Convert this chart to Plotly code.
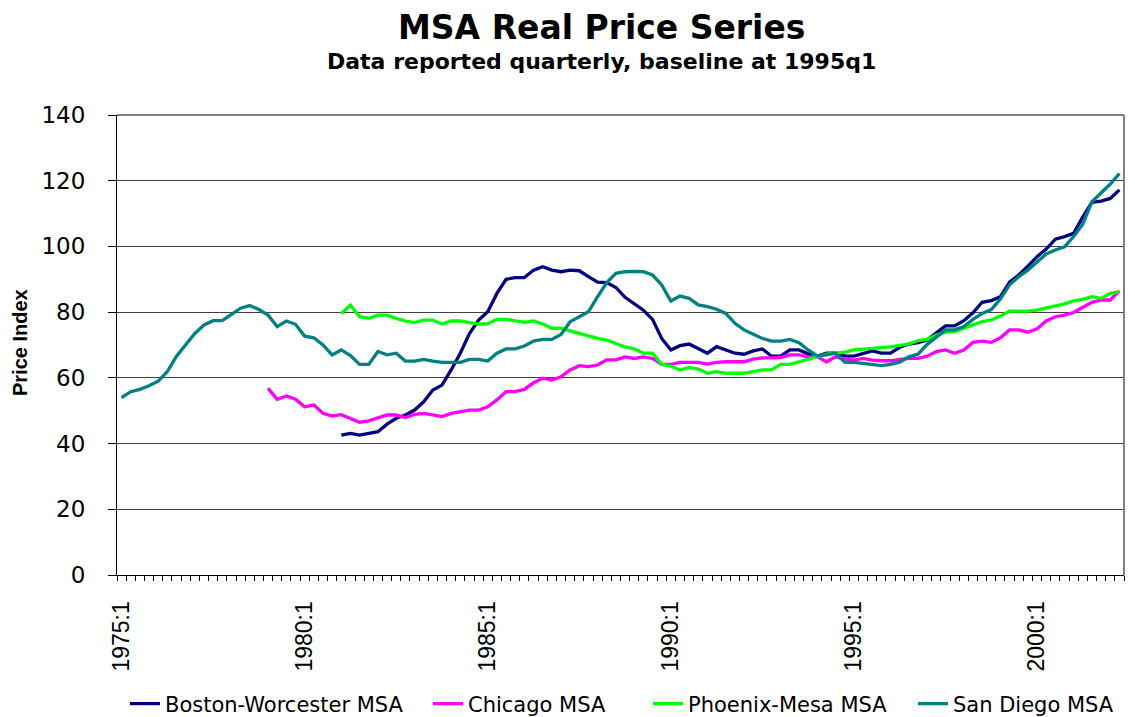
import plotly.graph_objects as go

# ---------------- data ----------------
quarters = [f"{y}:{q}" for y in range(1975, 2003) for q in range(1, 5)][:110]  # 1975:1 .. 2002:2
tick_labels = ["1975:1", "1980:1", "1985:1", "1990:1", "1995:1", "2000:1"]

boston_start = "1981:1"
boston = [42.6, 43.1, 42.6, 43.1, 43.6, 45.9, 47.7, 48.7, 50.2, 52.7, 56.3, 57.8, 62.4, 67.5, 73.5, 77.6,
          80.1, 85.7, 90.0, 90.5, 90.5, 92.8, 93.8, 92.8, 92.3, 92.8, 92.6, 90.8, 89.1, 89.0, 87.5, 84.5,
          82.4, 80.6, 77.8, 72.0, 68.5, 69.8, 70.3, 68.8, 67.5, 69.5, 68.5, 67.5, 67.2, 68.2, 68.8, 66.6,
          66.6, 68.5, 68.5, 67.3, 66.6, 67.5, 67.5, 66.7, 66.6, 67.5, 68.2, 67.5, 67.5, 69.3, 70.3, 70.7,
          71.5, 73.7, 75.8, 75.8, 77.4, 79.8, 83.0, 83.5, 84.7, 89.1, 91.3, 94.0, 96.9, 99.2, 102.2, 103.0,
          104.0, 109.0, 113.4, 113.8, 114.6, 117.2]

chicago_start = "1979:1"
chicago = [56.8, 53.5, 54.5, 53.5, 51.2, 51.7, 49.2, 48.4, 48.8, 47.7, 46.5, 46.9, 47.9, 48.7, 48.7, 47.9,
           48.9, 49.2, 48.7, 48.2, 49.2, 49.7, 50.2, 50.2, 51.2, 53.3, 55.8, 55.8, 56.5, 58.5, 59.9, 59.3,
           60.3, 62.4, 63.7, 63.4, 63.9, 65.5, 65.5, 66.4, 65.9, 66.4, 65.9, 64.1, 64.1, 64.7, 64.7, 64.7,
           64.2, 64.7, 64.9, 64.9, 64.9, 65.7, 66.1, 66.1, 66.2, 67.0, 67.0, 66.4, 66.4, 64.9, 66.4, 65.7,
           65.4, 65.9, 65.4, 65.2, 65.2, 65.6, 65.9, 65.9, 66.6, 68.0, 68.5, 67.5, 68.5, 70.8, 71.2, 70.8,
           72.2, 74.6, 74.6, 73.9, 74.9, 77.3, 78.6, 79.1, 79.9, 81.5, 83.0, 83.7, 83.7, 86.5]

phoenix_start = "1981:1"
phoenix = [79.6, 82.1, 78.6, 78.1, 79.1, 79.1, 78.1, 77.3, 76.8, 77.6, 77.6, 76.4, 77.3, 77.3, 76.8, 76.4,
           76.4, 77.8, 77.8, 77.3, 76.9, 77.3, 76.4, 75.1, 75.1, 74.3, 73.5, 72.7, 72.0, 71.5, 70.4, 69.4,
           68.8, 67.5, 67.5, 64.1, 63.6, 62.4, 63.2, 62.7, 61.4, 61.9, 61.4, 61.4, 61.4, 61.9, 62.4, 62.4,
           64.1, 64.1, 64.9, 65.7, 66.4, 67.2, 67.5, 67.8, 68.5, 68.7, 69.0, 69.1, 69.4, 69.9, 70.3, 71.3,
           71.7, 73.0, 73.9, 74.1, 75.1, 75.9, 77.1, 77.6, 78.8, 80.3, 80.3, 80.3, 80.6, 81.2, 82.0, 82.5,
           83.4, 83.9, 84.7, 84.2, 85.7, 86.2]

sandiego_start = "1975:1"
sandiego = [54.0, 55.8, 56.5, 57.6, 59.0, 61.9, 66.6, 70.2, 73.5, 76.1, 77.4, 77.4, 79.3, 81.2, 82.0, 80.8,
            79.1, 75.6, 77.3, 76.3, 72.7, 72.2, 70.0, 67.0, 68.5, 66.8, 64.1, 64.1, 68.0, 67.0, 67.5, 65.1,
            65.1, 65.6, 65.1, 64.7, 64.7, 64.7, 65.6, 65.6, 65.1, 67.5, 68.8, 68.8, 69.7, 71.2, 71.7, 71.7,
            73.2, 77.1, 78.6, 80.1, 84.7, 89.0, 91.8, 92.3, 92.4, 92.3, 91.3, 88.3, 83.4, 84.9, 84.2, 82.2,
            81.7, 80.9, 79.6, 76.6, 74.6, 73.2, 72.0, 71.2, 71.2, 71.7, 70.7, 68.5, 66.7, 67.0, 67.5, 64.7,
            64.7, 64.4, 64.0, 63.7, 64.1, 64.8, 66.4, 67.2, 70.2, 72.5, 74.6, 74.6, 75.6, 77.8, 79.6, 80.8,
            84.0, 88.3, 90.8, 92.8, 95.4, 97.7, 98.9, 99.9, 103.0, 106.8, 113.6, 116.2, 119.0, 122.2]

series = [
    ("Boston-Worcester MSA", boston_start, boston, "#000080"),
    ("Chicago MSA", chicago_start, chicago, "#FF00FF"),
    ("Phoenix-Mesa MSA", phoenix_start, phoenix, "#00FF00"),
    ("San Diego MSA", sandiego_start, sandiego, "#008080"),
]

# ---------------- figure ----------------
W, H = 1135, 717
L, R, T, B = 117, 11, 115, 142
pw, ph = W - L - R, H - T - B


def py(p):  # pixel y -> paper y
    return (H - B - p) / ph


def px(p):  # pixel x -> paper x
    return (p - L) / pw


fig = go.Figure()
legend_names = ["legend", "legend2", "legend3", "legend4"]
legend_text_x = [165, 468, 688, 953]

for k, (name, start, vals, color) in enumerate(series):
    i0 = quarters.index(start)
    xs = list(range(i0, i0 + len(vals)))
    fig.add_trace(go.Scatter(
        x=xs, y=vals, mode="lines", name=name,
        line=dict(color=color, width=3.3),
        legend=legend_names[k],
        hovertext=[quarters[i] for i in xs],
    ))

legend_font = dict(family="DejaVu Sans", size=21, color="black")
layout_legends = {}
for k, ln in enumerate(legend_names):
    layout_legends[ln] = dict(
        x=(legend_text_x[k] - 40) / W, xref="container", xanchor="left",
        y=1 - 704 / H, yref="container", yanchor="middle",
        orientation="h", font=legend_font, bgcolor="rgba(0,0,0,0)",
        borderwidth=0, itemwidth=30,
    )

fig.update_layout(
    width=W, height=H,
    margin=dict(l=L, r=R, t=T, b=B, pad=0, autoexpand=False),
    paper_bgcolor="white", plot_bgcolor="white",
    showlegend=True,
    **layout_legends,
)

tickvals = [quarters.index(t) for t in tick_labels]
fig.update_xaxes(
    range=[-0.5, len(quarters) - 0.5],
    tickmode="array", tickvals=tickvals, ticktext=tick_labels,
    tickangle=-90, ticks="", showgrid=False, zeroline=False,
    showline=True, linecolor="black", linewidth=1,
    tickfont=dict(family="Liberation Sans", size=23, color="black"),
    ticklabelstandoff=16,
    minor=dict(ticks="outside", ticklen=5, tickcolor="black", tickwidth=1,
               tick0=-0.5, dtick=1, showgrid=False),
    automargin=False,
)
fig.update_yaxes(
    range=[0, 140], dtick=20, tick0=0,
    ticks="outside", ticklen=8, tickcolor="black", tickwidth=1,
    showgrid=True, gridcolor="#404040", gridwidth=1, zeroline=False,
    showline=True, linecolor="black", linewidth=1,
    tickfont=dict(family="DejaVu Sans", size=23, color="black"),
    ticklabelstandoff=18,
    automargin=False,
)

# plot-area border (top and right, gray)
fig.add_shape(type="line", xref="paper", yref="paper", x0=0, x1=1, y0=1, y1=1,
              line=dict(color="#808080", width=2), layer="above")
fig.add_shape(type="line", xref="paper", yref="paper", x0=1, x1=1, y0=0, y1=1,
              line=dict(color="#808080", width=2), layer="above")

fig.add_annotation(text="<b>MSA Real Price Series</b>", xref="paper", yref="paper",
                   x=px(601), y=py(27), xanchor="center", yanchor="middle", showarrow=False,
                   font=dict(family="DejaVu Sans", size=33, color="black"))
fig.add_annotation(text="<b>Data reported quarterly, baseline at 1995q1</b>", xref="paper", yref="paper",
                   x=px(601), y=py(61), xanchor="center", yanchor="middle", showarrow=False,
                   font=dict(family="DejaVu Sans", size=22, color="black"))
fig.add_annotation(text="<b>Price Index</b>", xref="paper", yref="paper",
                   x=px(20), y=py(343), xanchor="center", yanchor="middle", showarrow=False,
                   textangle=-90,
                   font=dict(family="Liberation Sans", size=20, color="black"))

fig.write_html("out.html",
               config={"displayModeBar": False},
               post_script="document.body.style.margin='0px';document.body.style.overflow='hidden';")
